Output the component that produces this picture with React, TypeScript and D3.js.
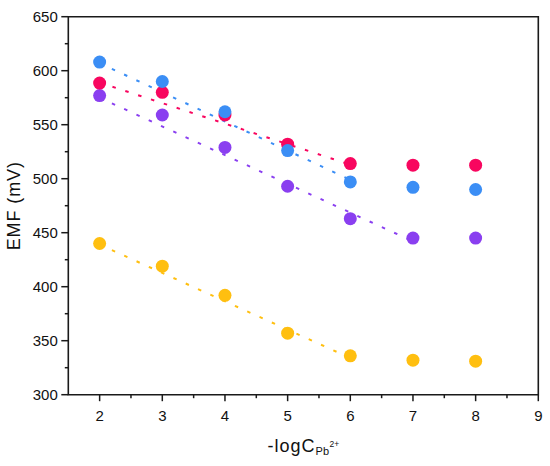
import * as d3 from 'd3'

// -logC(Pb2+) values
const xValues = [2, 3, 4, 5, 6, 7, 8]

// EMF readings (mV) for each sensor
const redEMF = [588.5, 580, 559, 532, 514, 512.5, 512.5]
const blueEMF = [608, 590, 562, 526, 497, 492, 490]
const purpleEMF = [577, 559, 529, 493, 463, 445, 445]
const yellowEMF = [440, 419, 392, 357, 336, 332, 331]

// linear-range fit lines: [x start, x end] and [EMF start, EMF end]
const redFitX = [2, 6]
const redFitY = [589, 513]
const blueFitX = [2, 6]
const blueFitY = [607, 499]
const purpleFitX = [2, 7]
const purpleFitY = [575, 442]
const yellowFitX = [2, 6]
const yellowFitY = [439, 334]

const xTicks = [2, 3, 4, 5, 6, 7, 8, 9]
const xMinorTicks = [2.5, 3.5, 4.5, 5.5, 6.5, 7.5, 8.5]
const yTicks = [300, 350, 400, 450, 500, 550, 600, 650]
const yMinorTicks = [325, 375, 425, 475, 525, 575, 625]

const series = [
	{ name: 'yellow', values: yellowEMF, fitX: yellowFitX, fitY: yellowFitY, color: '#ffbf10' },
	{ name: 'purple', values: purpleEMF, fitX: purpleFitX, fitY: purpleFitY, color: '#8a3ff0' },
	{ name: 'red', values: redEMF, fitX: redFitX, fitY: redFitY, color: '#f8065f' },
	{ name: 'blue', values: blueEMF, fitX: blueFitX, fitY: blueFitY, color: '#3b8ef5' },
]

const width = 550
const height = 466
const margin = { top: 16.7, right: 11.7, bottom: 71.3, left: 68.3 }
const font = '"Liberation Sans", Arial, sans-serif'

export default function App() {
	const x = d3.scaleLinear().domain([1.5, 9]).range([margin.left, width - margin.right])
	const y = d3.scaleLinear().domain([300, 650]).range([height - margin.bottom, margin.top])
	const line = d3
		.line<[number, number]>()
		.x((d) => x(d[0]))
		.y((d) => y(d[1]))

	const x0 = x.range()[0]
	const x1 = x.range()[1]
	const y0 = y.range()[0]
	const y1 = y.range()[1]
	const axisColor = '#1a1a1a'

	return (
		<svg
			width={width}
			height={height}
			style={{ position: 'absolute', left: 0, top: 0, background: '#fff' }}
			fontFamily={font}
		>
			{/* fit lines */}
			{series.map((s) => (
				<path
					key={'fit-' + s.name}
					d={line([
						[s.fitX[0], s.fitY[0]],
						[s.fitX[1], s.fitY[1]],
					]) || ''}
					fill="none"
					stroke={s.color}
					strokeWidth={2}
					strokeDasharray="3.5 10"
				/>
			))}

			{/* points */}
			{series.map((s) => (
				<g key={'pts-' + s.name}>
					{s.values.map((v, i) => (
						<circle key={i} cx={x(xValues[i])} cy={y(v)} r={6.5} fill={s.color} />
					))}
				</g>
			))}

			{/* frame */}
			<path
				d={`M${x0},${y1}H${x1}V${y0}H${x0}Z`}
				fill="none"
				stroke={axisColor}
				strokeWidth={1.6}
			/>

			{/* x axis ticks */}
			{xTicks.map((t) => (
				<g key={'xt' + t}>
					<line x1={x(t)} x2={x(t)} y1={y0} y2={y0 + 6.5} stroke={axisColor} strokeWidth={1.5} />
					<text x={x(t)} y={y0 + 26} textAnchor="middle" fontSize={15} fill="#111">
						{t}
					</text>
				</g>
			))}
			{xMinorTicks.map((t) => (
				<line key={'xm' + t} x1={x(t)} x2={x(t)} y1={y0} y2={y0 + 3.5} stroke={axisColor} strokeWidth={1.5} />
			))}

			{/* y axis ticks */}
			{yTicks.map((t) => (
				<g key={'yt' + t}>
					<line x1={x0 - 7} x2={x0} y1={y(t)} y2={y(t)} stroke={axisColor} strokeWidth={1.5} />
					<text x={x0 - 10.5} y={y(t) + 5.4} textAnchor="end" fontSize={15} fill="#111">
						{t}
					</text>
				</g>
			))}
			{yMinorTicks.map((t) => (
				<line key={'ym' + t} x1={x0 - 3.5} x2={x0} y1={y(t)} y2={y(t)} stroke={axisColor} strokeWidth={1.5} />
			))}

			{/* axis titles */}
			<text
				transform={`translate(19.5,${(y0 + y1) / 2}) rotate(-90)`}
				textAnchor="middle"
				fontSize={18}
				letterSpacing={0.9}
				fill="#111"
			>
				EMF (mV)
			</text>
			<text x={(x0 + x1) / 2} y={451.5} textAnchor="middle" fontSize={18} fill="#111">
				<tspan letterSpacing={1}>-logC</tspan>
				<tspan fontSize={11} dy={3.5} letterSpacing={0.3}>Pb</tspan>
				<tspan fontSize={8.5} dy={-8}>2+</tspan>
			</text>
		</svg>
	)
}
